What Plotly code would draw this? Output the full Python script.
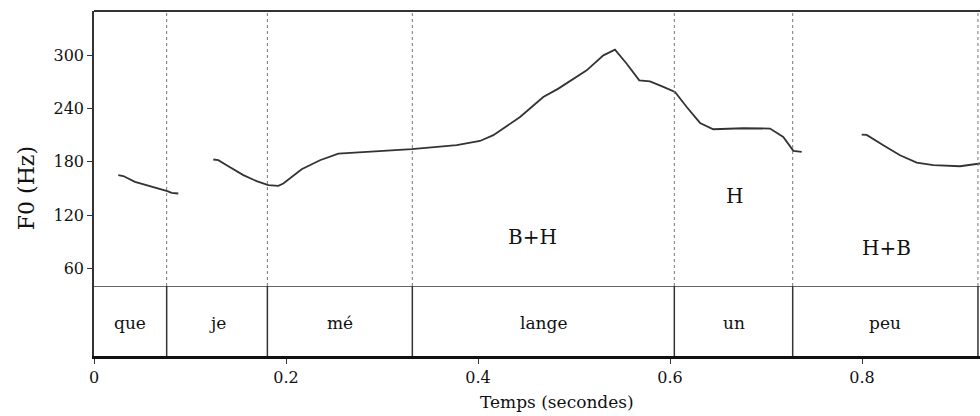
import plotly.graph_objects as go

# ---- data ----
seg1_t = [0.0253, 0.0305, 0.0427, 0.0583, 0.0688, 0.0764, 0.0809, 0.0878]
seg1_f = [165, 164, 157.4, 152.5, 150, 147, 145, 144.3]

seg2_t = [0.1243, 0.1295, 0.1382, 0.1556, 0.1694, 0.1816, 0.1920, 0.1972, 0.2163, 0.2354,
          0.2545, 0.2806, 0.3309, 0.3778, 0.4021, 0.416, 0.4438, 0.468, 0.4837, 0.5132,
          0.5306, 0.5427, 0.5549, 0.568, 0.5792, 0.5931, 0.6052, 0.6174, 0.6313, 0.6451,
          0.6764, 0.7042, 0.718, 0.7285, 0.7372]
seg2_f = [182.6, 181.8, 176, 165, 158.2, 153.7, 152.9, 155.6, 171.7, 181.8,
          189.3, 191.2, 194.2, 198.7, 203.5, 210, 230.5, 253, 262.5, 283.1,
          300, 306.4, 290.6, 271.9, 270.7, 264.4, 258.7, 241.8, 223.8, 216.7,
          217.8, 217.5, 208, 192.3, 191.2]

seg3_t = [0.7997, 0.8049, 0.8222, 0.8396, 0.857, 0.8743, 0.9021, 0.9229]
seg3_f = [210.7, 210.3, 198.7, 187.4, 179.2, 176.2, 175, 178.1]

syllables = ["que", "je", "mé", "lange", "un", "peu"]
bounds = [0.0, 0.0757, 0.1806, 0.3316, 0.6045, 0.7278, 0.9208]

tones = ["B+H", "H", "H+B"]
tone_t = [0.457, 0.6677, 0.826]
tone_f = [95, 142, 83]

x_ticks = [0, 0.2, 0.4, 0.6, 0.8]
x_ticktext = ["0", "0.2", "0.4", "0.6", "0.8"]
y_ticks = [60, 120, 180, 240, 300]

FONT = "DejaVu Serif"
X_MAX = 0.92292
F_MIN, F_MAX = 40, 350

fig = go.Figure()
for t, f in [(seg1_t, seg1_f), (seg2_t, seg2_f), (seg3_t, seg3_f)]:
    fig.add_trace(go.Scatter(x=t, y=f, mode="lines", xaxis="x", yaxis="y",
                             line=dict(color="#333333", width=1.8), showlegend=False,
                             hoverinfo="skip"))

shapes = []
for b in bounds[1:]:
    shapes.append(dict(type="line", xref="x", yref="y", x0=b, x1=b, y0=F_MIN, y1=F_MAX,
                       line=dict(color="#777777", width=1, dash="dot")))
    shapes.append(dict(type="line", xref="x", yref="y2", x0=b, x1=b, y0=0, y1=1,
                       line=dict(color="#333333", width=1.5)))
# frame: top, separator
shapes.append(dict(type="line", xref="paper", yref="paper", x0=0, x1=1, y0=1, y1=1,
                   line=dict(color="#333333", width=2)))
shapes.append(dict(type="line", xref="x", yref="y2", x0=0, x1=X_MAX, y0=1, y1=1,
                   line=dict(color="#333333", width=1.5)))

annotations = []
for i, s in enumerate(syllables):
    annotations.append(dict(x=(bounds[i] + bounds[i + 1]) / 2, y=0.47, xref="x", yref="y2",
                            text=s, showarrow=False, font=dict(family=FONT, size=17, color="#111")))
for s, t, f in zip(tones, tone_t, tone_f):
    annotations.append(dict(x=t, y=f, xref="x", yref="y", text=s, showarrow=False,
                            font=dict(family=FONT, size=20, color="#111")))
annotations.append(dict(x=0.482, y=-0.133, xref="x", yref="paper", text="Temps (secondes)",
                        xanchor="center", yanchor="middle",
                        showarrow=False, font=dict(family=FONT, size=17, color="#111")))
annotations.append(dict(x=-0.076, y=0.4855, xref="paper", yref="paper", text="F0 (Hz)",
                        xanchor="center", yanchor="middle",
                        textangle=-90, showarrow=False, font=dict(family=FONT, size=22, color="#111")))

dom = (356 - 286) / 345
fig.update_layout(
    width=980, height=416,
    margin=dict(l=94, r=0, t=11, b=60),
    paper_bgcolor="white", plot_bgcolor="white",
    font=dict(family=FONT),
    shapes=shapes, annotations=annotations,
    xaxis=dict(range=[0, X_MAX], anchor="y2", showgrid=False, zeroline=False,
               showline=True, linewidth=3, linecolor="#111",
               ticks="outside", ticklen=5, tickcolor="#333",
               tickvals=x_ticks, ticktext=x_ticktext,
               tickfont=dict(family=FONT, size=16, color="#111")),
    yaxis=dict(domain=[dom, 1], range=[F_MIN, F_MAX], anchor="x", showgrid=False,
               zeroline=False, showline=True, linewidth=1.5, linecolor="#333",
               ticks="outside", ticklen=5, tickcolor="#333", tickvals=y_ticks,
               tickfont=dict(family=FONT, size=16, color="#111")),
    yaxis2=dict(domain=[0, dom], range=[0, 1], anchor="x", showgrid=False, zeroline=False,
                showline=True, linewidth=1.5, linecolor="#333", showticklabels=False,
                ticks=""),
)

fig.write_html("out.html")
